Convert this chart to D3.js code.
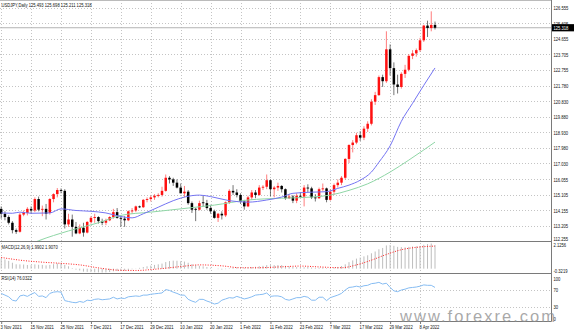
<!DOCTYPE html>
<html><head><meta charset="utf-8">
<script src="https://cdn.jsdelivr.net/npm/d3@7"></script>
<style>
html,body{margin:0;padding:0;background:#fff;}
svg{display:block;font-family:"Liberation Sans",Arial,sans-serif;}
</style></head><body>
<svg id="chart" width="574" height="332"></svg>
<script>
// USDJPY daily bars, 3 Nov 2021 – 14 Apr 2022
const dates = [
"2021-11-03","2021-11-04","2021-11-05","2021-11-08","2021-11-09","2021-11-10","2021-11-11","2021-11-12","2021-11-15","2021-11-16",
"2021-11-17","2021-11-18","2021-11-19","2021-11-22","2021-11-23","2021-11-24","2021-11-25","2021-11-26","2021-11-29","2021-11-30",
"2021-12-01","2021-12-02","2021-12-03","2021-12-06","2021-12-07","2021-12-08","2021-12-09","2021-12-10","2021-12-13","2021-12-14",
"2021-12-15","2021-12-16","2021-12-17","2021-12-20","2021-12-21","2021-12-22","2021-12-23","2021-12-24","2021-12-27","2021-12-28",
"2021-12-29","2021-12-30","2021-12-31","2022-01-03","2022-01-04","2022-01-05","2022-01-06","2022-01-07","2022-01-10","2022-01-11",
"2022-01-12","2022-01-13","2022-01-14","2022-01-17","2022-01-18","2022-01-19","2022-01-20","2022-01-21","2022-01-24","2022-01-25",
"2022-01-26","2022-01-27","2022-01-28","2022-01-31","2022-02-01","2022-02-02","2022-02-03","2022-02-04","2022-02-07","2022-02-08",
"2022-02-09","2022-02-10","2022-02-11","2022-02-14","2022-02-15","2022-02-16","2022-02-17","2022-02-18","2022-02-21","2022-02-22",
"2022-02-23","2022-02-24","2022-02-25","2022-02-28","2022-03-01","2022-03-02","2022-03-03","2022-03-04","2022-03-07","2022-03-08",
"2022-03-09","2022-03-10","2022-03-11","2022-03-14","2022-03-15","2022-03-16","2022-03-17","2022-03-18","2022-03-21","2022-03-22",
"2022-03-23","2022-03-24","2022-03-25","2022-03-28","2022-03-29","2022-03-30","2022-03-31","2022-04-01","2022-04-04","2022-04-05",
"2022-04-06","2022-04-07","2022-04-08","2022-04-11","2022-04-12","2022-04-13","2022-04-14"];

const opens = [
114.25,113.95,113.75,113.40,112.95,112.85,113.90,114.00,114.25,114.15,
114.85,114.20,114.25,114.00,114.85,115.15,115.40,115.35,113.30,113.60,
113.15,112.75,113.10,112.80,113.45,113.70,113.75,113.50,113.40,113.55,
113.75,114.05,113.70,113.65,113.55,114.10,114.15,114.40,114.35,114.80,
114.85,114.95,115.05,115.10,115.35,116.15,116.05,115.85,115.55,115.20,
115.30,114.60,114.25,114.20,114.65,114.60,114.30,114.10,113.70,113.95,
113.85,114.65,115.35,115.25,115.10,114.70,114.40,114.95,115.25,115.10,
115.55,115.60,116.00,115.45,115.55,115.65,115.45,114.90,115.00,114.75,
115.05,115.00,115.55,115.50,114.95,114.90,115.45,115.50,114.80,115.30,
115.70,115.85,116.15,117.30,118.15,118.30,118.75,118.60,119.15,119.45,
120.80,121.20,122.30,122.05,124.00,122.85,121.85,121.70,122.50,122.75,
123.60,123.75,123.95,124.55,125.45,125.30,125.493];
const highs = [
114.40,114.10,113.85,113.50,113.05,114.00,114.15,114.35,114.40,114.95,
115.00,114.45,114.55,114.90,115.20,115.52,115.50,115.45,113.95,113.90,
113.45,113.30,113.40,113.50,113.80,113.95,113.80,113.65,113.65,113.80,
114.25,114.30,113.85,113.80,114.15,114.30,114.45,114.45,114.85,114.95,
115.05,115.15,115.20,115.60,116.35,116.25,116.15,116.05,115.80,115.65,
115.40,114.70,114.30,114.75,115.05,114.80,114.50,114.20,114.00,114.10,
114.70,115.45,115.70,115.45,115.20,114.80,115.05,115.40,115.40,115.70,
115.70,116.35,116.05,115.65,115.85,115.70,115.50,115.15,115.10,115.20,
115.25,115.70,115.75,115.60,115.15,115.55,115.80,115.55,115.45,115.80,
116.05,116.25,117.35,118.20,118.45,118.90,119.00,119.30,119.60,120.95,
121.40,122.40,122.45,125.10,124.30,123.20,122.45,122.60,123.05,123.70,
123.95,124.05,124.70,125.50,125.75,126.32,125.698];
const lows = [
113.65,113.55,113.30,112.75,112.72,112.80,113.80,113.85,113.95,114.05,
114.10,113.80,113.60,113.90,114.65,114.95,115.20,113.05,113.15,112.55,
112.70,112.70,112.55,112.75,113.35,113.40,113.35,113.25,113.25,113.50,
113.65,113.65,113.15,113.15,113.50,113.95,114.05,114.30,114.30,114.65,
114.70,114.80,114.95,115.00,115.30,115.80,115.65,115.50,115.20,114.95,
114.50,114.00,113.50,114.15,114.40,114.20,113.95,113.65,113.45,113.60,
113.75,114.55,115.10,114.95,114.55,114.20,114.35,114.80,114.90,115.05,
115.40,115.45,115.00,114.95,115.35,115.25,114.80,114.85,114.60,114.60,
114.95,114.40,115.25,114.85,114.70,114.85,115.35,114.65,114.75,115.10,
115.55,115.70,116.05,117.05,117.70,118.20,118.40,118.45,118.95,119.35,
120.60,121.15,121.70,121.95,122.40,121.20,121.30,121.60,122.25,122.65,
123.40,123.55,123.85,124.45,124.75,125.10,125.211];
const closes = [
113.95,113.75,113.40,112.95,112.85,113.90,114.05,114.25,114.15,114.85,
114.20,114.25,113.95,114.85,115.15,115.40,115.35,113.30,113.60,113.15,
112.75,113.10,112.80,113.45,113.70,113.75,113.50,113.40,113.55,113.75,
114.05,113.70,113.65,113.55,114.10,114.15,114.40,114.35,114.80,114.85,
114.95,115.05,115.10,115.35,116.15,116.05,115.85,115.55,115.20,115.30,
114.60,114.20,114.20,114.60,114.60,114.30,114.10,113.70,113.95,113.85,
114.65,115.35,115.25,115.10,114.70,114.40,114.95,115.25,115.10,115.55,
115.60,116.00,115.45,115.55,115.65,115.45,114.90,115.00,114.75,115.05,
115.00,115.55,115.50,114.95,114.90,115.45,115.50,114.80,115.30,115.70,
115.85,116.15,117.30,118.15,118.30,118.75,118.60,119.15,119.45,120.80,
121.20,122.30,122.05,124.00,122.85,121.85,121.70,122.50,122.75,123.60,
123.75,123.95,124.55,125.45,125.30,125.49,125.318];

// moving averages, read as [bar index, value]
const maFast = [[0,114.00],[3,113.98],[5,114.05],[8,113.98],[13,114.00],[16,114.25],[20,114.15],[24,114.10],
[28,114.00],[32,113.78],[35,113.70],[38,113.95],[42,114.35],[46,114.75],[49,114.97],[53,115.09],[56,115.00],
[61,114.75],[66,114.66],[71,114.79],[75,114.97],[78,115.20],[83,115.27],[87,115.30],[90,115.50],[93,115.70],
[96,116.00],[99,116.50],[101,117.10],[104,118.10],[107,119.60],[110,120.70],[113,121.80],[116,122.86]];
const maSlow = [[4,111.70],[10,112.30],[18,112.90],[26,113.40],[32,113.85],[40,114.05],[50,114.30],[57,114.48],
[66,114.79],[75,114.90],[83,114.97],[88,115.09],[93,115.38],[98,115.78],[104,116.50],[109,117.23],[113,117.85],[116,118.33]];

// MACD(12,26,9) main per bar and signal samples
const macdMain = [
0.85,0.78,0.66,0.50,0.37,0.36,0.35,0.31,0.30,0.36,
0.33,0.32,0.28,0.32,0.38,0.45,0.49,0.32,0.20,0.05,
-0.08,-0.15,-0.25,-0.27,-0.29,-0.30,-0.31,-0.3219,-0.31,-0.28,
-0.22,-0.20,-0.18,-0.17,-0.11,-0.05,0.02,0.07,0.14,0.20,
0.26,0.32,0.37,0.43,0.56,0.64,0.68,0.67,0.63,0.60,
0.50,0.38,0.29,0.24,0.20,0.14,0.08,0.00,-0.04,-0.08,
-0.04,0.04,0.09,0.12,0.11,0.08,0.10,0.14,0.16,0.21,
0.24,0.30,0.30,0.30,0.31,0.30,0.24,0.20,0.15,0.13,
0.10,0.12,0.14,0.10,0.06,0.08,0.10,0.05,0.06,0.10,
0.15,0.22,0.37,0.55,0.70,0.85,0.94,1.04,1.13,1.30,
1.45,1.64,1.75,1.96,2.00,1.93,1.84,1.82,1.80,1.84,
1.87,1.89,1.92,2.02,2.08,2.1256,1.9902];
const macdSignal = [[0,0.95],[5,0.72],[11,0.55],[16,0.45],[21,0.32],[27,0.02],[32,-0.14],[36,-0.15],[42,-0.02],
[48,0.18],[53,0.32],[59,0.24],[64,0.08],[69,0.08],[75,0.16],[80,0.22],[85,0.15],[91,0.08],[95,0.32],[99,0.72],
[103,1.20],[107,1.60],[111,1.80],[116,1.907]];

// RSI(14) per bar
const rsi = [
62,58,54,46,44,56,58,55,60,64,
55,56,52,62,65,66,65,45,43,41,
40,43,41,46,45,48,49,47,48,49,
53,49,51,50,54,55,56,55,58,58,
60,61,62,63,71,69,65,62,58,58,
48,44,41,48,48,44,41,37,39,46,
49,52,51,55,52,49,51,54,58,59,
60,63,55,56,56,54,48,46,49,52,
52,55,53,46,46,53,53,45,52,55,
58,62,70,76,77,79,77,80,81,85,
86,88,84,86,76,68,66,70,72,75,
76,77,79,82,81,81,76.0322];

const priceTicks = [126.555,125.605,124.655,123.705,122.755,121.780,120.830,119.880,118.930,117.980,117.030,116.055,115.105,114.155,113.205,112.255];
const dateTicks = ["2021-11-03","2021-11-15","2021-11-25","2021-12-07","2021-12-17","2021-12-29","2022-01-10","2022-01-20","2022-02-01","2022-02-11","2022-02-23","2022-03-07","2022-03-17","2022-03-29","2022-04-08"];
const dateTickLabels = ["3 Nov 2021","15 Nov 2021","25 Nov 2021","7 Dec 2021","17 Dec 2021","29 Dec 2021","10 Jan 2022","20 Jan 2022","1 Feb 2022","11 Feb 2022","23 Feb 2022","7 Mar 2022","17 Mar 2022","29 Mar 2022","8 Apr 2022"];
const rsiLevels = [70,30];

const symbolTitle = "USDJPY,Daily  125.493 125.698 125.211 125.318";
const macdTitle = "MACD(12,26,9) 1.9902 1.9070";
const rsiTitle = "RSI(14) 76.0322";
const macdRange = [-0.3219, 2.1256];
const lastPrice = 125.318;

// ---- layout ----
const axisX = 551.5, mainBot = 241.5, macdBot = 273.5, rsiBot = 321.5;
const fs = 5.6, squeeze = "scale(0.74,1)";
const gridCol = "#c4c4c4", frameCol = "#7a7a7a";

const svg = d3.select("#chart");
const x = d3.scalePoint().domain(dates).range([1.2, 435]);
const y = d3.scaleLinear().domain([112.255, 126.555]).range([mainBot, 7.5]);
const yM = d3.scaleLinear().domain(macdRange).range([272.5, 243.5]);
const yR = d3.scaleLinear().domain([0, 100]).range([319.75, 277.25]);

const defs = svg.append("defs");
const clip = (id, y0, y1) => defs.append("clipPath").attr("id", id)
  .append("rect").attr("x", 0).attr("y", y0).attr("width", axisX).attr("height", y1 - y0);
clip("cMain", 0.5, mainBot); clip("cMacd", mainBot + 0.5, macdBot); clip("cRsi", macdBot + 0.5, rsiBot);

// grid
const grid = svg.append("g").attr("stroke", gridCol).attr("stroke-width", 1).attr("stroke-dasharray", "1,2");
grid.selectAll(".gv").data(dateTicks).join("line")
  .attr("x1", d => Math.round(x(d)) + 0.5).attr("x2", d => Math.round(x(d)) + 0.5)
  .attr("y1", 0).attr("y2", rsiBot);
grid.selectAll(".gh").data(priceTicks.slice(0, -1)).join("line")
  .attr("x1", 0).attr("x2", axisX)
  .attr("y1", d => Math.round(y(d)) + 0.5).attr("y2", d => Math.round(y(d)) + 0.5);
grid.selectAll(".gr").data(rsiLevels).join("line")
  .attr("x1", 0).attr("x2", axisX)
  .attr("y1", d => Math.round(yR(d)) + 0.5).attr("y2", d => Math.round(yR(d)) + 0.5);

// current bid line
svg.append("line").attr("x1", 0).attr("x2", axisX)
  .attr("y1", y(lastPrice)).attr("y2", y(lastPrice))
  .attr("stroke", "#b4b4b4").attr("stroke-width", 1);

// candles
const main = svg.append("g").attr("clip-path", "url(#cMain)");
const bars = dates.map((d, i) => ({ d, o: opens[i], h: highs[i], l: lows[i], c: closes[i] }));
const upCol = "#ff1010", dnCol = "#000";
main.selectAll(".wick").data(bars).join("line")
  .attr("x1", b => x(b.d)).attr("x2", b => x(b.d))
  .attr("y1", b => y(b.h)).attr("y2", b => y(b.l))
  .attr("stroke", b => b.c >= b.o ? upCol : dnCol)
  .attr("stroke-opacity", 0.55).attr("stroke-width", 1);
main.selectAll(".body").data(bars).join("rect")
  .attr("x", b => x(b.d) - 1.25).attr("width", 2.5)
  .attr("y", b => y(Math.max(b.o, b.c)))
  .attr("height", b => Math.max(0.9, Math.abs(y(b.o) - y(b.c))))
  .attr("fill", b => b.c >= b.o ? upCol : dnCol);

// moving averages
const maLine = d3.line().x(p => x(dates[p[0]])).y(p => y(p[1])).curve(d3.curveMonotoneX);
main.append("path").attr("d", maSlow.length ? maLine(maSlow) : null)
  .attr("fill", "none").attr("stroke", "#8fd6a6").attr("stroke-width", 1);
main.append("path").attr("d", maLine(maFast))
  .attr("fill", "none").attr("stroke", "#7474f2").attr("stroke-width", 1);

// MACD
const macdG = svg.append("g").attr("clip-path", "url(#cMacd)");
macdG.selectAll(".hist").data(macdMain).join("line")
  .attr("x1", (v, i) => x(dates[i])).attr("x2", (v, i) => x(dates[i]))
  .attr("y1", yM(0)).attr("y2", v => yM(v))
  .attr("stroke", "#bdbdbd").attr("stroke-width", 1);
const sigLine = d3.line().x(p => x(dates[p[0]])).y(p => yM(p[1])).curve(d3.curveMonotoneX);
macdG.append("path").attr("d", sigLine(macdSignal))
  .attr("fill", "none").attr("stroke", "#ff2020").attr("stroke-width", 1).attr("stroke-dasharray", "1,1.5");

// RSI
const rsiG = svg.append("g").attr("clip-path", "url(#cRsi)");
rsiG.append("path")
  .attr("d", d3.line().x((v, i) => x(dates[i])).y(v => yR(v))(rsi))
  .attr("fill", "none").attr("stroke", "#86bcf2").attr("stroke-width", 1);

// frame
const frame = svg.append("g").attr("stroke", frameCol).attr("stroke-width", 1);
frame.append("line").attr("x1", 0).attr("x2", axisX).attr("y1", 0.5).attr("y2", 0.5).attr("stroke", "#bbb");
[mainBot, macdBot, rsiBot].forEach(v => frame.append("line").attr("x1", 0).attr("x2", axisX).attr("y1", v).attr("y2", v));
frame.append("line").attr("x1", axisX).attr("x2", axisX).attr("y1", 0).attr("y2", rsiBot);

// price axis
const axR = svg.append("g").attr("transform", `translate(${axisX + 2},0)`)
  .call(d3.axisRight(y).tickValues(priceTicks).tickSize(0).tickPadding(0).tickFormat(d3.format(".3f")));
axR.select(".domain").remove();
axR.selectAll("text").attr("font-size", fs).attr("font-family", "Liberation Sans,Arial,sans-serif")
  .attr("fill", "#111").attr("transform", squeeze).attr("dy", "0.35em");
axR.selectAll(".tick").filter(d => d === 112.255).select("text").attr("dy", "-0.15em");
axR.selectAll(".tick").filter(d => d === 126.555).select("text").attr("dy", "0.3em");

// MACD / RSI scale labels
const sideLabels = [
  { t: "2.1256", yy: 245.4 }, { t: "-0.3219", yy: 270.6 },
  { t: "100", yy: 278.6 }, { t: "70", yy: yR(70) + 0.4 }, { t: "30", yy: yR(30) + 0.4 }, { t: "0", yy: 319 }];
svg.selectAll(".side").data(sideLabels).join("text")
  .attr("transform", d => `translate(${axisX + 2},${d.yy}) ${squeeze}`)
  .attr("dy", "0.35em").attr("font-size", fs).attr("fill", "#111").text(d => d.t);

// last price box
svg.append("rect").attr("x", axisX + 0.5).attr("y", y(lastPrice) - 3.6).attr("width", 574 - axisX).attr("height", 7.2).attr("fill", "#000");
svg.append("text").attr("transform", `translate(${axisX + 2},${y(lastPrice)}) ${squeeze}`)
  .attr("dy", "0.35em").attr("font-size", fs).attr("fill", "#fff").text(d3.format(".3f")(lastPrice));

// date axis
const axB = svg.append("g").attr("transform", `translate(0,${rsiBot})`)
  .call(d3.axisBottom(x).tickValues(dateTicks).tickSize(2.5).tickPadding(0.6)
    .tickFormat((d, i) => dateTickLabels[i]));
axB.select(".domain").remove();
axB.selectAll("line").attr("stroke", frameCol);
axB.selectAll("text").attr("font-size", fs).attr("fill", "#111").attr("text-anchor", "start")
  .attr("x", -1.5).attr("transform", squeeze);

// titles
const title = (t, yy) => svg.append("text").attr("transform", `translate(1.5,${yy}) ${squeeze}`)
  .attr("font-size", fs).attr("fill", "#111").text(t);
title(symbolTitle, 6.6);
title(macdTitle, 248.6);
title(rsiTitle, 280.4);

// site mark
svg.append("text").attr("x", 400).attr("y", 322.3).attr("font-size", 16.5)
  .attr("textLength", 155).attr("lengthAdjust", "spacing")
  .attr("fill", "#8c8c8c").attr("fill-opacity", 0.75).text("www.forexre.com");
</script>
</body></html>
